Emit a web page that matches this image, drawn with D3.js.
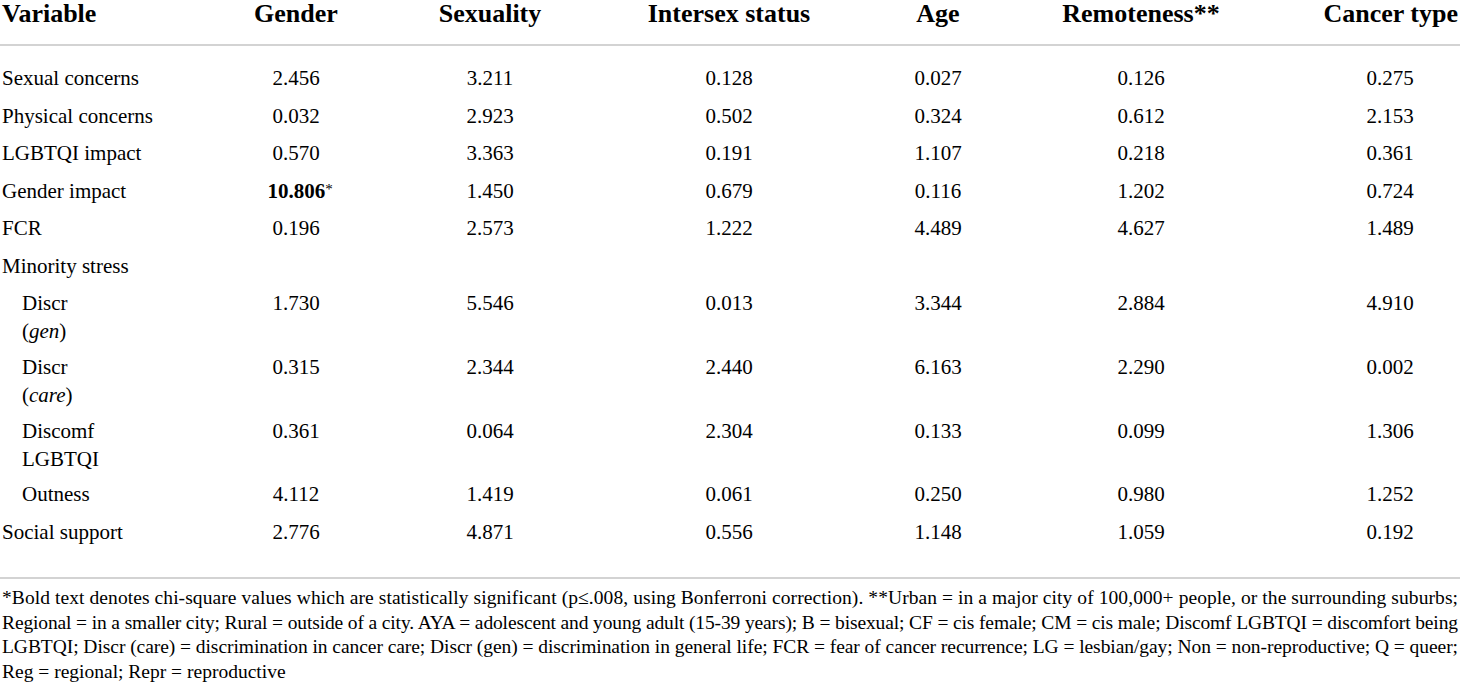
<!DOCTYPE html>
<html>
<head>
<meta charset="utf-8">
<script src="https://cdn.jsdelivr.net/npm/d3@7"></script>
<style>
  body { margin: 0; background: #fff; }
  svg { display: block; font-family: "Liberation Serif", "DejaVu Serif", serif; }
</style>
</head>
<body>
<div id="table"></div>
<script>
var columns = ["Gender", "Sexuality", "Intersex status", "Age", "Remoteness**", "Cancer type"];

// row labels: [first line, second line (italic part in brackets), indented]
var variables = ["Sexual concerns", "Physical concerns", "LGBTQI impact", "Gender impact", "FCR",
  "Minority stress", "Discr (gen)", "Discr (care)", "Discomf LGBTQI", "Outness", "Social support"];
var labelLines = [["Sexual concerns"], ["Physical concerns"], ["LGBTQI impact"], ["Gender impact"], ["FCR"],
  ["Minority stress"], ["Discr", "gen"], ["Discr", "care"], ["Discomf", "LGBTQI"], ["Outness"], ["Social support"]];
var indented = [false, false, false, false, false, false, true, true, true, true, false];

var gender     = ["2.456", "0.032", "0.570", "10.806", "0.196", null, "1.730", "0.315", "0.361", "4.112", "2.776"];
var sexuality  = ["3.211", "2.923", "3.363", "1.450", "2.573", null, "5.546", "2.344", "0.064", "1.419", "4.871"];
var intersex   = ["0.128", "0.502", "0.191", "0.679", "1.222", null, "0.013", "2.440", "2.304", "0.061", "0.556"];
var age        = ["0.027", "0.324", "1.107", "0.116", "4.489", null, "3.344", "6.163", "0.133", "0.250", "1.148"];
var remoteness = ["0.126", "0.612", "0.218", "1.202", "4.627", null, "2.884", "2.290", "0.099", "0.980", "1.059"];
var cancerType = ["0.275", "2.153", "0.361", "0.724", "1.489", null, "4.910", "0.002", "1.306", "1.252", "0.192"];
var significant = [["Gender", "Gender impact"]];

var footnote = [
  "*Bold text denotes chi-square values which are statistically significant (p\u2264.008, using Bonferroni correction). **Urban = in a major city of 100,000+ people, or the surrounding suburbs;",
  "Regional = in a smaller city; Rural = outside of a city. AYA = adolescent and young adult (15-39 years); B = bisexual; CF = cis female; CM = cis male; Discomf LGBTQI = discomfort being",
  "LGBTQI; Discr (care) = discrimination in cancer care; Discr (gen) = discrimination in general life; FCR = fear of cancer recurrence; LG = lesbian/gay; Non = non-reproductive; Q = queer;",
  "Reg = regional; Repr = reproductive"
];

var series = [gender, sexuality, intersex, age, remoteness, cancerType];

var width = 1460, height = 686;

var svg = d3.select("#table")
  .append("svg")
  .attr("width", width)
  .attr("height", height);

// column centres
var x = d3.scaleOrdinal()
  .domain(columns)
  .range([296, 490, 729, 938, 1141, 1390]);

// rows: one-line rows take 1 unit, two-line rows take 1.7 units
var units = labelLines.map(function(l) { return l.length > 1 ? 1.7 : 1; });
var starts = [0].concat(Array.from(d3.cumsum(units)).slice(0, -1));
var y = d3.scaleLinear()
  .domain([0, 1])
  .range([78, 115.5]);
var lineGap = 28;

// header
svg.append("text")
  .attr("x", 2)
  .attr("y", 22)
  .attr("font-size", 26)
  .attr("font-weight", "bold")
  .text("Variable");

svg.selectAll("text.head")
  .data(columns)
  .enter()
  .append("text")
  .attr("class", "head")
  .attr("x", function(d) { return d === "Cancer type" ? width - 2 : x(d); })
  .attr("y", 22)
  .attr("font-size", 26)
  .attr("font-weight", "bold")
  .attr("text-anchor", function(d) { return d === "Cancer type" ? "end" : "middle"; })
  .text(function(d) { return d; });

// rules
svg.selectAll("line.rule")
  .data([45, 578])
  .enter()
  .append("line")
  .attr("class", "rule")
  .attr("x1", 0)
  .attr("x2", width)
  .attr("y1", function(d) { return d; })
  .attr("y2", function(d) { return d; })
  .attr("stroke", "#c4c4c4")
  .attr("stroke-width", 1.5);

// row labels
var rows = svg.selectAll("g.row")
  .data(variables)
  .enter()
  .append("g")
  .attr("class", "row")
  .attr("transform", function(d, i) { return "translate(0," + (y(starts[i]) + 7) + ")"; });

rows.each(function(d, i) {
  var g = d3.select(this);
  var lx = indented[i] ? 22 : 2;
  var lines = labelLines[i];
  g.append("text")
    .attr("x", lx)
    .attr("y", 0)
    .attr("font-size", 21)
    .text(lines[0]);
  if (lines.length > 1) {
    var t = g.append("text")
      .attr("x", lx)
      .attr("y", lineGap)
      .attr("font-size", 21);
    if (lines[1] === "LGBTQI") {
      t.text(lines[1]);
    } else {
      t.append("tspan").text("(");
      t.append("tspan").attr("font-style", "italic").text(lines[1]);
      t.append("tspan").text(")");
    }
  }
});

// cells
var cells = [];
series.forEach(function(s, c) {
  s.forEach(function(v, r) {
    if (v !== null) cells.push({ col: columns[c], row: r, value: v });
  });
});

var isSig = function(d) {
  return significant.some(function(s) { return s[0] === d.col && s[1] === variables[d.row]; });
};

svg.selectAll("text.cell")
  .data(cells)
  .enter()
  .append("text")
  .attr("class", "cell")
  .attr("x", function(d) { return x(d.col) + (isSig(d) ? 4 : 0); })
  .attr("y", function(d) { return y(starts[d.row]) + 7; })
  .attr("font-size", 21)
  .attr("text-anchor", "middle")
  .each(function(d) {
    var t = d3.select(this);
    if (isSig(d)) {
      t.append("tspan").attr("font-weight", "bold").text(d.value);
      t.append("tspan").attr("font-size", 15).attr("dy", -4).text("*");
    } else {
      t.text(d.value);
    }
  });

// footnote, justified except last line
svg.selectAll("text.foot")
  .data(footnote)
  .enter()
  .append("text")
  .attr("class", "foot")
  .attr("x", 2)
  .attr("y", function(d, i) { return 604 + i * 24.5; })
  .attr("font-size", 19.5)
  .attr("textLength", function(d, i) { return i < footnote.length - 1 ? width - 4 : null; })
  .attr("lengthAdjust", "spacing")
  .text(function(d) { return d; });
</script>
</body>
</html>
